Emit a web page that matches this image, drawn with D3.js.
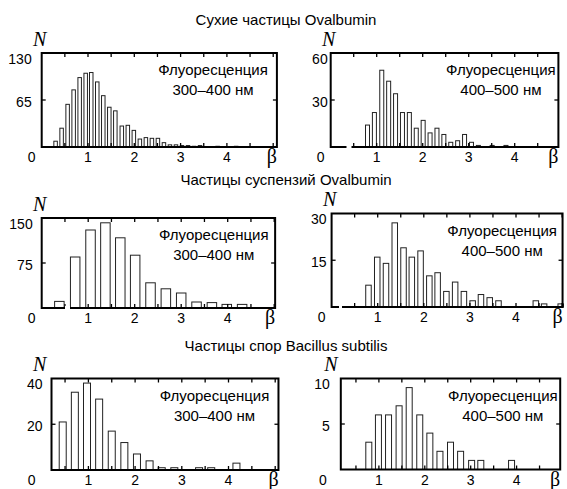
<!DOCTYPE html>
<html>
<head>
<meta charset="utf-8">
<script src="https://cdn.jsdelivr.net/npm/d3@7"></script>
<style>
  body { margin: 0; background: #fff; }
  text { font-family: "Liberation Sans", Arial, sans-serif; fill: #000; }
</style>
</head>
<body>
<div id="chart"></div>
<script>
// section titles
const titles = ["Сухие частицы Ovalbumin", "Частицы суспензий Ovalbumin", "Частицы спор Bacillus subtilis"];
const bandLeft = ["Флуоресценция", "300–400 нм"];
const bandRight = ["Флуоресценция", "400–500 нм"];
const betaTicks = [1, 2, 3, 4];

// dry Ovalbumin, 300-400 nm
const dryUvBeta = [0.30, 0.43, 0.56, 0.69, 0.82, 0.95, 1.07, 1.20, 1.33, 1.46, 1.59, 1.73, 1.86, 1.99, 2.12, 2.25, 2.38, 2.51, 2.64, 2.77, 2.90, 3.03, 3.16, 3.29, 3.42, 3.80, 4.20];
const dryUvN    = [8, 26, 59, 79, 96, 102, 103, 90, 71, 55, 50, 29, 30, 23, 11, 13, 12, 12, 6, 3, 3, 2, 2, 1, 2, 1, 1];
// dry Ovalbumin, 400-500 nm
const dryVisBeta = [0.80, 0.95, 1.11, 1.26, 1.41, 1.56, 1.71, 1.86, 2.01, 2.16, 2.31, 2.46, 2.61, 2.76, 2.91, 3.06, 3.21, 3.51, 3.81];
const dryVisN    = [14, 22, 49, 42, 34, 22, 22, 12, 17, 9, 12, 8, 3, 4, 8, 3, 1, 1, 1];
// suspension Ovalbumin, 300-400 nm
const suspUvBeta = [0.38, 0.72, 1.05, 1.37, 1.69, 2.01, 2.34, 2.67, 3.00, 3.33, 3.66, 3.98, 4.31];
const suspUvN    = [11, 85, 130, 142, 117, 88, 42, 32, 25, 10, 9, 6, 6];
// suspension Ovalbumin, 400-500 nm
const suspVisBeta = [0.80, 0.99, 1.18, 1.37, 1.56, 1.74, 1.93, 2.12, 2.30, 2.49, 2.68, 2.87, 3.06, 3.24, 3.43, 3.62, 4.43, 4.61, 4.97];
const suspVisN    = [7, 16, 14, 27, 19, 16, 18, 10, 11, 5, 8, 5, 2, 4, 3, 2, 2, 1, 1];
// Bacillus subtilis spores, 300-400 nm
const sporeUvBeta = [0.45, 0.71, 0.97, 1.23, 1.50, 1.77, 2.04, 2.31, 2.57, 2.84, 3.37, 3.63, 4.17];
const sporeUvN    = [21, 34, 38, 31, 17, 12, 7, 4, 1, 1, 1, 1, 3];
// Bacillus subtilis spores, 400-500 nm
const sporeVisBeta = [0.78, 0.99, 1.21, 1.44, 1.66, 1.89, 2.11, 2.33, 2.56, 2.78, 3.02, 3.22, 3.89];
const sporeVisN    = [3, 6, 6, 7, 9, 6, 4, 2, 3, 2, 1, 1, 1];

const yMaxes = [130, 60, 150, 30, 40, 10];

const width = 567, height = 489;
const svg = d3.select("#chart").append("svg")
    .attr("width", width).attr("height", height);

// layout of each panel (pixels); gaps = white breaks in the scanned frame
const panels = [
  { beta: dryUvBeta,    n: dryUvN,    yMax: yMaxes[0], x0: 41.7,  unit: 46.3, bMin: 0,    bMax: 5.08, top: 53,    bottom: 147,   barW: 3.5, band: bandLeft,  labGap: 10, gaps: [] },
  { beta: dryVisBeta,   n: dryVisN,   yMax: yMaxes[1], x0: 330.7, unit: 46.0, bMin: 0,    bMax: 4.95, top: 53,    bottom: 147,   barW: 4,   band: bandRight, labGap: 3,  gaps: [[346.5, 5]] },
  { beta: suspUvBeta,   n: suspUvN,   yMax: yMaxes[2], x0: 41.7,  unit: 46.5, bMin: 0,    bMax: 5.02, top: 218,   bottom: 308,   barW: 9.5, band: bandLeft,  labGap: 9,  gaps: [[65, 5]] },
  { beta: suspVisBeta,  n: suspVisN,  yMax: yMaxes[3], x0: 331.6, unit: 46.1, bMin: 0,    bMax: 5.01, top: 213.5, bottom: 307,   barW: 5.5, band: bandRight, labGap: 5,  gaps: [[339, 3]] },
  { beta: sporeUvBeta,  n: sporeUvN,  yMax: yMaxes[4], x0: 41.7,  unit: 46.7, bMin: 0.21, bMax: 5.07, top: 378.5, bottom: 470,   barW: 7,   band: bandLeft,  labGap: 9,  gaps: [] },
  { beta: sporeVisBeta, n: sporeVisN, yMax: yMaxes[5], x0: 333,   unit: 45.9, bMin: 0.17, bMax: 4.95, top: 378.5, bottom: 469.5, barW: 6,   band: bandRight, labGap: 11, gaps: [] }
];

// titles
const titleY = [24.5, 184.5, 350.5];
svg.selectAll(".title")
  .data(titles)
  .enter().append("text")
  .attr("x", 286)
  .attr("y", (d, i) => titleY[i])
  .attr("text-anchor", "middle")
  .style("font-size", "15px")
  .text(d => d);

panels.forEach(p => {
  const x = d3.scaleLinear().domain([0, 5]).range([p.x0, p.x0 + 5 * p.unit]);
  const y = d3.scaleLinear().domain([0, p.yMax]).range([p.bottom, p.top]);
  const g = svg.append("g");
  const xl = x(p.bMin), xr = x(p.bMax);

  // bars
  g.selectAll("rect.bar")
    .data(p.beta.map((b, i) => ({ b: b, n: p.n[i] })))
    .enter().append("rect")
    .attr("class", "bar")
    .attr("x", d => x(d.b) - p.barW / 2)
    .attr("y", d => y(d.n))
    .attr("width", p.barW)
    .attr("height", d => y(0) - y(d.n))
    .style("fill", "#fff")
    .style("stroke", "#222")
    .style("stroke-width", 1);

  // inward ticks on top and bottom every 0.5
  const halfTicks = d3.range(0.5, p.bMax, 0.5).filter(t => t > p.bMin + 0.05);
  const tk = g.append("g").style("stroke", "#000").style("stroke-width", 1.3);
  halfTicks.forEach(t => {
    tk.append("line").attr("x1", x(t)).attr("x2", x(t)).attr("y1", p.bottom).attr("y2", p.bottom - 4);
    tk.append("line").attr("x1", x(t)).attr("x2", x(t)).attr("y1", p.top).attr("y2", p.top + 4);
  });
  const ym = y(p.yMax / 2);
  tk.append("line").attr("x1", xl).attr("x2", xl + 4).attr("y1", ym).attr("y2", ym);
  tk.append("line").attr("x1", xr).attr("x2", xr - 4).attr("y1", ym).attr("y2", ym);

  // frame
  g.append("rect")
    .attr("x", xl).attr("y", p.top)
    .attr("width", xr - xl).attr("height", p.bottom - p.top)
    .style("fill", "none")
    .style("stroke", "#000")
    .style("stroke-width", 2);
  p.gaps.forEach(gp => {
    g.append("rect")
      .attr("x", gp[0]).attr("y", p.bottom - 2)
      .attr("width", gp[1]).attr("height", 4)
      .style("fill", "#fff");
  });

  // x tick labels
  g.selectAll("text.xt")
    .data(betaTicks)
    .enter().append("text")
    .attr("x", d => x(d))
    .attr("y", p.bottom + 15)
    .attr("text-anchor", "middle")
    .style("font-size", "14px")
    .text(d => d);
  g.append("text")
    .attr("x", x(0) - 10).attr("y", p.bottom + 15)
    .attr("text-anchor", "middle")
    .style("font-size", "14px")
    .text("0");

  // y tick labels
  g.selectAll("text.yt")
    .data([p.yMax, p.yMax / 2])
    .enter().append("text")
    .attr("x", xl - p.labGap)
    .attr("y", (d, i) => y(d) + (i === 0 ? 10.5 : 7))
    .attr("text-anchor", "end")
    .style("font-size", "14px")
    .text(d => d);

  // axis names
  g.append("text")
    .attr("x", x(0) - 2).attr("y", p.top - 7.5)
    .attr("text-anchor", "middle")
    .style("font-family", "'Liberation Serif', 'Times New Roman', serif")
    .style("font-style", "italic")
    .style("font-size", "20px")
    .text("N");
  g.append("text")
    .attr("x", xr - 5).attr("y", p.bottom + 16)
    .attr("text-anchor", "middle")
    .style("font-family", "'Liberation Serif', 'Times New Roman', serif")
    .style("font-size", "20px")
    .text("β");

  // annotation
  g.selectAll("text.band")
    .data(p.band)
    .enter().append("text")
    .attr("x", x(3.7))
    .attr("y", (d, i) => p.top + 22 + i * 20)
    .attr("text-anchor", "middle")
    .style("font-size", "15px")
    .text(d => d);
});
</script>
</body>
</html>
